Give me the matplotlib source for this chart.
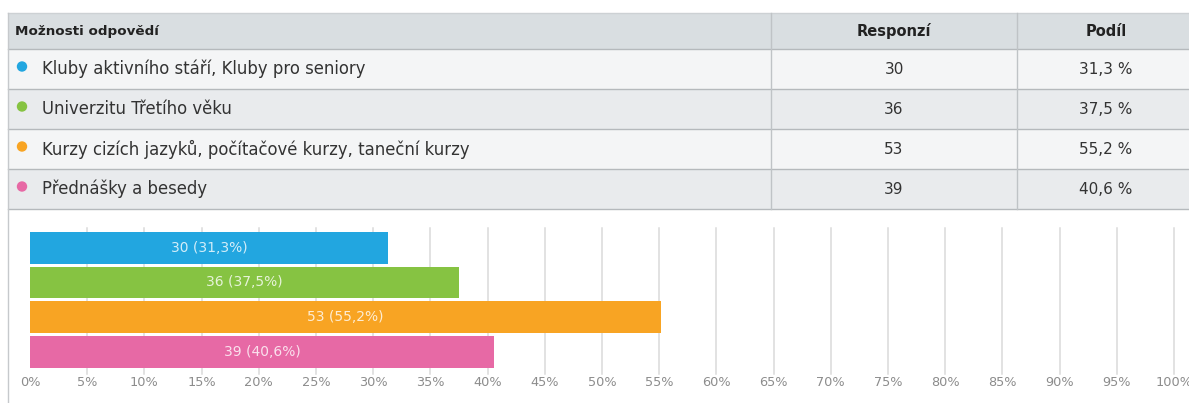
import matplotlib
matplotlib.use("Agg")
import matplotlib.pyplot as plt
from matplotlib.patches import Rectangle, Circle

# Survey answers
options = [
    "Kluby aktivního stáří, Kluby pro seniory",
    "Univerzitu Třetího věku",
    "Kurzy cizích jazyků, počítačové kurzy, taneční kurzy",
    "Přednášky a besedy",
]
responses = [30, 36, 53, 39]
shares = [31.3, 37.5, 55.2, 40.6]
colors = ["#22a6e0", "#86c342", "#f8a423", "#e769a5"]
header = ["Možnosti odpovědí", "Responzí", "Podíl"]
tick_values = list(range(0, 101, 5))

W, H = 1189, 403
fig = plt.figure(figsize=(W / 100, H / 100), dpi=100)
fig.patch.set_facecolor("white")

# Pixel-space canvas for the table
bg = fig.add_axes([0, 0, 1, 1])
bg.set_xlim(0, W)
bg.set_ylim(H, 0)
bg.axis("off")

table_font = "DejaVu Sans"
left, right = 8, 1197
col1, col2 = 771, 1017
top, head_bottom, row_h = 13, 49, 40
line_col = "#b5b9bc"
text_col = "#333333"

# header and row backgrounds
bg.add_patch(Rectangle((left, top), right - left, head_bottom - top,
                       facecolor="#d9dee1", edgecolor="none"))
row_fills = ["#f4f5f6", "#e9ebed", "#f4f5f6", "#e9ebed"]
for i, fc in enumerate(row_fills):
    y0 = head_bottom + i * row_h
    bg.add_patch(Rectangle((left, y0), right - left, row_h,
                           facecolor=fc, edgecolor="none"))

# borders
bg.plot([left, right], [top, top], color="#cdd1d4", lw=1)
for i in range(5):
    y = head_bottom + i * row_h
    bg.plot([left, right], [y, y], color=line_col, lw=1)
table_bottom = head_bottom + 4 * row_h
for x in (col1, col2):
    bg.plot([x, x], [top, table_bottom], color="#bfc3c6", lw=1)
bg.plot([left, left], [top, H], color="#c6c9cc", lw=1)

hy = (top + head_bottom) / 2
bg.text(15, hy, header[0], fontsize=9.7, fontweight="bold", family=table_font,
        color="#222222", va="center", ha="left")
bg.text((col1 + col2) / 2, hy, header[1], fontsize=10.5, fontweight="bold",
        family=table_font, color="#222222", va="center", ha="center")
bg.text((col2 + right) / 2 - 1, hy, header[2], fontsize=10.5, fontweight="bold",
        family=table_font, color="#222222", va="center", ha="center")

for i, (opt, n, s, c) in enumerate(zip(options, responses, shares, colors)):
    cy = head_bottom + i * row_h + row_h / 2
    bg.add_patch(Circle((22, cy - 2.5), 5.2, facecolor=c, edgecolor="none"))
    bg.text(42, cy, opt, fontsize=11.9, family=table_font, color=text_col,
            va="center", ha="left")
    bg.text((col1 + col2) / 2, cy, str(n), fontsize=11, family=table_font,
            color=text_col, va="center", ha="center")
    bg.text((col2 + right) / 2 - 1, cy, f"{s:.1f} %".replace(".", ","),
            fontsize=11, family=table_font, color=text_col,
            va="center", ha="center")

# Bar chart
x0, x1 = 30, 1174
y_top, y_bot = 228, 369.5
ax = fig.add_axes([x0 / W, (H - y_bot) / H, (x1 - x0) / W, (y_bot - y_top) / H])
ax.set_xlim(0, 100)
ax.set_ylim(3.5, -0.563)
for spine in ax.spines.values():
    spine.set_visible(False)
ax.set_facecolor("none")
for t in tick_values[1:]:
    ax.axvline(t, ymin=-0.03, ymax=1, color="#dadada", lw=1.1, zorder=0,
               clip_on=False)

ypos = list(range(len(options)))
ax.barh(ypos, shares, height=0.914, color=colors, zorder=2)
for y, n, s in zip(ypos, responses, shares):
    ax.text(s / 2, y, f"{n} ({s:.1f}%)".replace(".", ","), ha="center",
            va="center", fontsize=10, color="white", alpha=0.8, zorder=3)

ax.set_yticks([])
ax.set_xticks(tick_values)
ax.set_xticklabels([f"{t}%" for t in tick_values], fontsize=9.3, color="#8c8c8c")
ax.tick_params(axis="x", length=0, pad=5)

fig.savefig("out.png", dpi=100, facecolor="white")
